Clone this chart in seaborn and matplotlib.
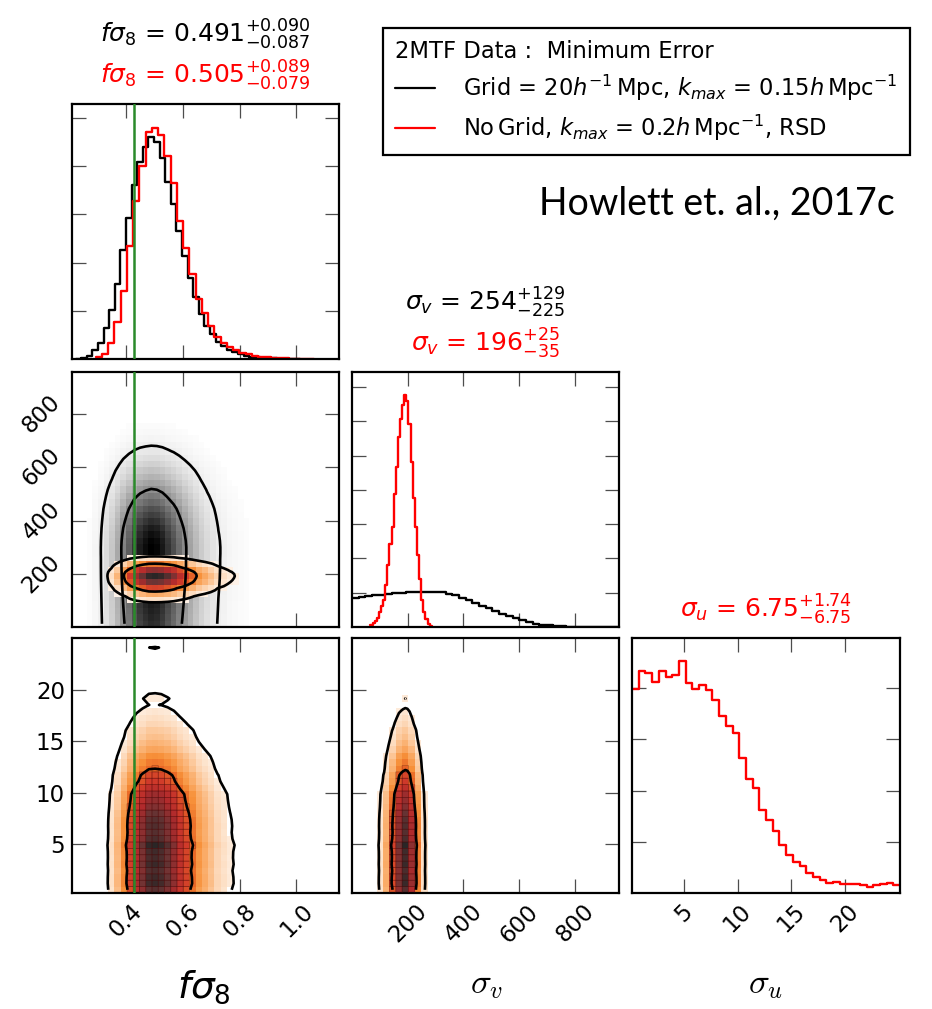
import numpy as np
import pandas as pd
import matplotlib
matplotlib.use("Agg")
import matplotlib.pyplot as plt
import seaborn as sns
from matplotlib.colors import LinearSegmentedColormap
from matplotlib.lines import Line2D

# ------------------------------------------------------------------ data
# f sigma_8 marginal, black chain (Grid = 20 h^-1 Mpc, kmax = 0.15)
fs8_black_edges = np.round(0.223 + 0.0197 * np.arange(41), 4)
fs8_black = [0.01, 0.03, 0.07, 0.18, 0.33, 0.65, 1.02, 1.55, 2.26, 2.92,
             3.60, 4.08, 4.39, 4.60, 4.50, 4.18, 3.68, 3.21, 2.66, 2.13,
             1.68, 1.28, 0.94, 0.69, 0.52, 0.36, 0.27, 0.18, 0.14, 0.10,
             0.07, 0.05, 0.035, 0.025, 0.018, 0.012, 0.008, 0.005, 0.003, 0.002]
# f sigma_8 marginal, red chain (No Grid, kmax = 0.2, RSD)
fs8_red_edges = np.round(0.2936 + 0.022 * np.arange(36), 4)
fs8_red = [0.04, 0.11, 0.34, 0.76, 1.42, 2.35, 3.28, 4.01, 4.70, 4.80,
           4.65, 4.22, 3.66, 2.87, 2.31, 1.76, 1.24, 0.95, 0.69, 0.45,
           0.34, 0.24, 0.18, 0.13, 0.10, 0.07, 0.05, 0.04, 0.03, 0.02,
           0.015, 0.01, 0.008, 0.005, 0.003]
# sigma_v marginal, black chain
sv_black_edges = 24.0 * np.arange(41)
sv_black = [0.86, 0.88, 0.90, 0.92, 0.94, 0.96, 0.98, 1.00, 1.01, 1.02,
            1.02, 1.03, 1.03, 1.01, 0.97, 0.92, 0.85, 0.78, 0.71, 0.62,
            0.54, 0.46, 0.38, 0.31, 0.25, 0.19, 0.14, 0.10, 0.07, 0.045,
            0.03, 0.02, 0.012, 0.007, 0.004, 0.002, 0.001, 0.0, 0.0, 0.0]
# sigma_v marginal, red chain
sv_red_edges = np.round(66.0 + 7.59 * np.arange(30), 2)
sv_red = [0.07, 0.12, 0.17, 0.27, 0.43, 0.61, 0.80, 1.24, 1.80, 2.41,
          2.93, 3.88, 4.66, 5.54, 6.07, 6.49, 6.78, 6.58, 5.93, 4.82,
          3.75, 2.93, 2.10, 1.39, 0.80, 0.43, 0.22, 0.10, 0.04]
# sigma_u marginal, red chain
su_red_edges = np.round(0.21 + 0.6215 * np.arange(41), 4)
su_red = [3.98, 4.34, 4.29, 4.12, 4.34, 4.22, 4.26, 4.54, 4.11, 3.98,
          4.06, 3.97, 3.76, 3.46, 3.26, 3.13, 2.63, 2.23, 2.05, 1.63,
          1.43, 1.22, 0.93, 0.75, 0.61, 0.53, 0.40, 0.32, 0.25, 0.19,
          0.22, 0.18, 0.17, 0.17, 0.16, 0.12, 0.16, 0.17, 0.19, 0.15]

fs8_fiducial = 0.43

titles_black = {0: r"$f\sigma_8$ = $0.491^{+0.090}_{-0.087}$",
                1: r"$\sigma_v$ = $254^{+129}_{-225}$"}
titles_red = {0: r"$f\sigma_8$ = $0.505^{+0.089}_{-0.079}$",
              1: r"$\sigma_v$ = $196^{+25}_{-35}$",
              2: r"$\sigma_u$ = $6.75^{+1.74}_{-6.75}$"}

fs8_ticks = [0.4, 0.6, 0.8, 1.0]
sv_ticks = [200, 400, 600, 800]
su_ticks = [5, 10, 15, 20]
fs8_lim = (0.210, 1.150)
sv_lim = (0.0, 958.0)
su_lim = (0.21, 25.07)

legend_title = "2MTF Data :  Minimum Error"
label_black = r"Grid = $20h^{-1}\,$Mpc, $k_{max}$ = $0.15h\,$Mpc$^{-1}$"
label_red = r"No$\,$Grid, $k_{max}$ = $0.2h\,$Mpc$^{-1}$, RSD"
credit = "Howlett et. al., 2017c"

# ------------------------------------------------------------------ style
sns.set_style("ticks")
plt.rcParams['font.family'] = ['DejaVu Sans']
plt.rcParams['mathtext.fontset'] = 'dejavusans'
for key in ['text.color', 'axes.labelcolor', 'xtick.labelcolor', 'ytick.labelcolor',
            'legend.labelcolor']:
    plt.rcParams[key] = 'black'

W_PX, H_PX = 932, 1009
fig = plt.figure(figsize=(W_PX / 100, H_PX / 100), dpi=100)

cols = [(72, 339), (352, 619), (632, 900)]
rows = [(104, 359), (372, 627), (638, 893)]


def make_ax(r, c):
    x0, x1 = cols[c]
    y0, y1 = rows[r]
    return fig.add_axes([x0 / W_PX, 1 - y1 / H_PX, (x1 - x0) / W_PX, (y1 - y0) / H_PX])


def style(ax):
    for s in ax.spines.values():
        s.set_linewidth(1.6)
        s.set_color('black')
    ax.tick_params(direction='in', length=10, width=0.9, color='0.3',
                   labelcolor='black', top=True, right=True, labelsize=16.5, pad=5)
    ax.set_xlabel('')
    ax.set_ylabel('')


def centers(e):
    e = np.asarray(e, float)
    return 0.5 * (e[:-1] + e[1:])


def levels_for(W, fracs=(0.95, 0.68)):
    flat = np.sort(np.ravel(W))[::-1]
    cs = np.cumsum(flat)
    cs /= cs[-1]
    return sorted(flat[np.searchsorted(cs, f)] for f in fracs)


def hist1d(ax, edges, vals, color):
    df = pd.DataFrame({"v": centers(edges), "w": np.asarray(vals, float)})
    sns.histplot(data=df, x="v", weights="w", bins=[float(e) for e in edges],
                 element='step', fill=False, color=color, linewidth=1.7, ax=ax)


def hist2d(ax, xe, ye, W, cmap, thresh_frac, grid=False):
    xc, yc = centers(xe), centers(ye)
    XX, YY = np.meshgrid(xc, yc, indexing='ij')
    df = pd.DataFrame({"x": XX.ravel(), "y": YY.ravel(), "w": W.ravel()})
    sns.histplot(data=df, x="x", y="y", weights="w",
                 bins=[[float(e) for e in xe], [float(e) for e in ye]],
                 cmap=cmap, thresh=thresh_frac * W.max(), vmin=0, vmax=W.max(),
                 cbar=False, ax=ax)
    if grid:
        # thin dark cell borders in the high-density core
        core = np.ma.masked_less(W, levels_for(W)[1])
        ax.pcolor(np.asarray(xe, float), np.asarray(ye, float), core.T,
                  facecolors='none', edgecolors=(0.3, 0.03, 0.03, 0.4),
                  linewidth=0.5, zorder=3)


def contours(ax, xc, yc, W):
    ax.contour(xc, yc, W.T, levels=levels_for(W),
               colors='black', linewidths=1.9, zorder=5)


grey_cmap = LinearSegmentedColormap.from_list("greys_w", ["#ffffff", "#000000"])
red_cmap = LinearSegmentedColormap.from_list(
    "reds_w", [(0.0, "#ffffff"), (0.06, "#fde3cc"), (0.15, "#fbb77c"),
               (0.26, "#f7913a"), (0.34, "#ea6a26"), (0.48, "#d03a2a"),
               (0.64, "#b02a2c"), (0.82, "#6a3434"), (1.0, "#2a2626")])

fs8_b = np.array(fs8_black)
fs8_r = np.array(fs8_red)
sv_b = np.array(sv_black)
sv_r = np.array(sv_red)
su_r = np.array(su_red)

# coarser sigma_v binning for the red 2D histograms
sv_r_pad = np.append(sv_r, 0.0)
sv_r3 = sv_r_pad.reshape(-1, 3).sum(axis=1)
sv_r3_edges = sv_red_edges[::3]
sv_r3_edges = np.append(sv_r3_edges, sv_r3_edges[-1] + 3 * 7.59)[:len(sv_r3) + 1]

green = '#2a8a2a'

# ------------------------------------------------------------------ diagonal
ax00 = make_ax(0, 0)
hist1d(ax00, fs8_black_edges, fs8_black, 'black')
hist1d(ax00, fs8_red_edges, fs8_red, 'red')
ax00.axvline(fs8_fiducial, color=green, lw=1.8, zorder=10)
ax00.set_xlim(*fs8_lim)
ax00.set_ylim(0, 5.29)
ax00.set_xticks(fs8_ticks)
ax00.set_yticks([1, 2, 3, 4, 5])
style(ax00)
ax00.tick_params(labelbottom=False, labelleft=False)

ax11 = make_ax(1, 1)
hist1d(ax11, sv_black_edges, sv_black, 'black')
hist1d(ax11, sv_red_edges, sv_red, 'red')
ax11.set_xlim(*sv_lim)
ax11.set_ylim(0, 7.44)
ax11.set_xticks(sv_ticks)
ax11.set_yticks([1, 2, 3, 4, 5, 6, 7])
style(ax11)
ax11.tick_params(labelbottom=False, labelleft=False)

ax22 = make_ax(2, 2)
hist1d(ax22, su_red_edges, su_red, 'red')
ax22.set_xlim(*su_lim)
ax22.set_ylim(0, 4.98)
ax22.set_xticks(su_ticks)
ax22.set_yticks([1, 2, 3, 4])
style(ax22)
ax22.tick_params(labelleft=False)
ax22.tick_params(axis='x', labelrotation=45)

# ------------------------------------------------------------------ 2D panels
ax10 = make_ax(1, 0)
Wb = np.outer(fs8_b, sv_b)
hist2d(ax10, fs8_black_edges, sv_black_edges, Wb, grey_cmap, 0.012)
contours(ax10, centers(fs8_black_edges), centers(sv_black_edges), Wb)
Wr = np.outer(fs8_r, sv_r3)
hist2d(ax10, fs8_red_edges, sv_r3_edges, Wr, red_cmap, 0.03)
contours(ax10, centers(fs8_red_edges), centers(sv_red_edges), np.outer(fs8_r, sv_r))
ax10.axvline(fs8_fiducial, color=green, lw=1.8, zorder=10)
ax10.set_xlim(*fs8_lim)
ax10.set_ylim(*sv_lim)
ax10.set_xticks(fs8_ticks)
ax10.set_yticks(sv_ticks)
style(ax10)
ax10.tick_params(labelbottom=False)
ax10.tick_params(axis='y', labelrotation=45)
for lbl in ax10.get_yticklabels():
    lbl.set_va('center')

ax20 = make_ax(2, 0)
Wfu = np.outer(fs8_r, su_r)
hist2d(ax20, fs8_red_edges, su_red_edges, Wfu, red_cmap, 0.045, grid=True)
contours(ax20, centers(fs8_red_edges), centers(su_red_edges), Wfu)
ax20.axvline(fs8_fiducial, color=green, lw=1.8, zorder=10)
ax20.set_xlim(*fs8_lim)
ax20.set_ylim(*su_lim)
ax20.set_xticks(fs8_ticks)
ax20.set_yticks(su_ticks)
style(ax20)
ax20.tick_params(axis='x', labelrotation=45)

ax21 = make_ax(2, 1)
Wvu = np.outer(sv_r3, su_r)
hist2d(ax21, sv_r3_edges, su_red_edges, Wvu, red_cmap, 0.045, grid=True)
contours(ax21, centers(sv_red_edges), centers(su_red_edges), np.outer(sv_r, su_r))
ax21.set_xlim(*sv_lim)
ax21.set_ylim(*su_lim)
ax21.set_xticks(sv_ticks)
ax21.set_yticks(su_ticks)
style(ax21)
ax21.tick_params(labelleft=False)
ax21.tick_params(axis='x', labelrotation=45)

# ------------------------------------------------------------------ titles
diag = {0: ax00, 1: ax11, 2: ax22}
for i, ax in diag.items():
    if i in titles_black:
        ax.annotate(titles_black[i], xy=(0.5, 1.0), xycoords='axes fraction',
                    xytext=(0, 44), textcoords='offset points', ha='center',
                    va='baseline', fontsize=18, color='black')
    ax.annotate(titles_red[i], xy=(0.5, 1.0), xycoords='axes fraction',
                xytext=(0, 15), textcoords='offset points', ha='center',
                va='baseline', fontsize=18, color='red')

# axis labels
fig.text(204 / W_PX, 1 - 987 / H_PX, r"$f\sigma_8$", ha='center', va='center',
         fontsize=27, color='black')
fig.text(487 / W_PX, 1 - 984 / H_PX, r"$\sigma_v$", ha='center', va='center',
         fontsize=25, math_fontfamily='cm', color='black')
fig.text(766 / W_PX, 1 - 984 / H_PX, r"$\sigma_u$", ha='center', va='center',
         fontsize=25, math_fontfamily='cm', color='black')

# legend
handles = [Line2D([], [], color='black', lw=1.6), Line2D([], [], color='red', lw=1.6)]
leg = fig.legend(handles, [label_black, label_red], loc='upper left',
                 bbox_to_anchor=(383 / W_PX, 1 - 28 / H_PX),
                 bbox_transform=fig.transFigure, borderaxespad=0,
                 title=legend_title, fontsize=16.3, title_fontsize=16.3,
                 frameon=True, fancybox=False, edgecolor='black', framealpha=1,
                 handlelength=1.75, handletextpad=1.25, borderpad=0.55,
                 labelspacing=0.42, alignment='left')
leg.get_frame().set_linewidth(1.6)
leg.get_title().set_color('black')

fig.text(895 / W_PX, 1 - 215 / H_PX, credit, ha='right', va='baseline',
         fontsize=27, family=['Lato', 'DejaVu Sans'], color='black')

fig.savefig("out.png", dpi=100)
